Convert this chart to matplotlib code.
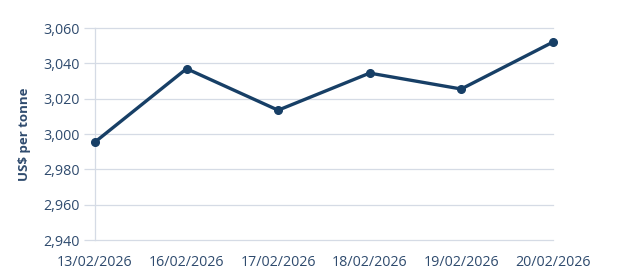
import matplotlib.pyplot as plt

# Daily price data
dates = ['13/02/2026', '16/02/2026', '17/02/2026', '18/02/2026', '19/02/2026', '20/02/2026']
prices = [2995.5, 3037, 3013.5, 3034.5, 3025.5, 3052]
y_ticks = [2940, 2960, 2980, 3000, 3020, 3040, 3060]

text_col = '#2f4b6e'
line_col = '#173f66'
grid_col = '#d5dbe5'

plt.rcParams['font.family'] = ['Open Sans', 'DejaVu Sans']

fig = plt.figure(figsize=(6.19, 2.75), dpi=100)
ax = fig.add_axes([0.1535, 0.127, 0.893 - 0.1535, 0.898 - 0.127])

x = list(range(len(dates)))
ax.plot(x, prices, color=line_col, linewidth=2.4, marker='o', markersize=5.5, zorder=3, clip_on=False)

ax.set_xlim(0, len(dates) - 1)
ax.set_ylim(2940, 3060)
ax.set_yticks(y_ticks)
ax.set_yticklabels([f'{v:,}' for v in y_ticks])
ax.set_xticks(x)
ax.set_xticklabels(dates)
ax.grid(axis='y', color=grid_col, linewidth=0.9)
for gl in ax.get_ygridlines():
    gl.set_clip_on(False)

for s in ['top', 'right', 'bottom']:
    ax.spines[s].set_visible(False)
ax.spines['left'].set_color(grid_col)
ax.spines['left'].set_linewidth(0.9)

ax.tick_params(axis='y', colors=grid_col, labelcolor=text_col, labelsize=10.3, length=8, width=0.9, pad=3)
ax.tick_params(axis='x', length=0, labelcolor=text_col, labelsize=10.3, pad=11)
ax.set_ylabel('US$ per tonne', color=text_col, fontsize=9.5, fontweight='bold', labelpad=9)

fig.savefig('out.png', dpi=100)
